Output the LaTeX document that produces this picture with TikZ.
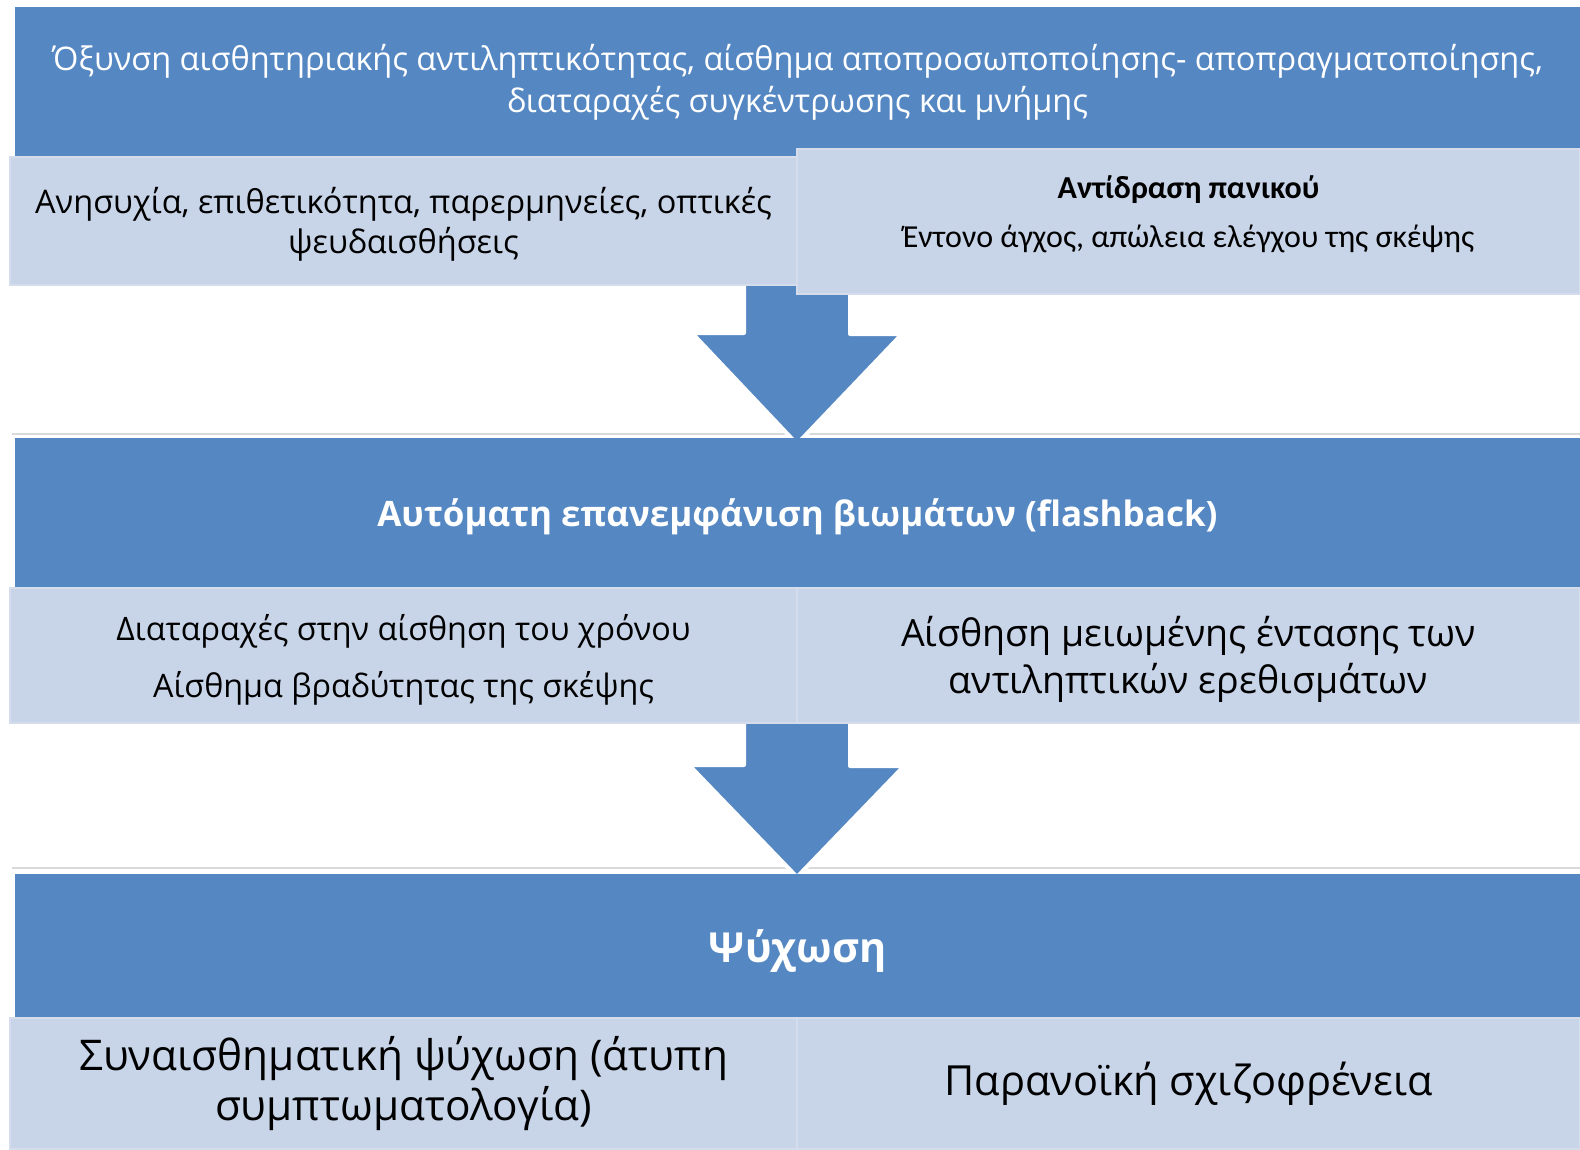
\documentclass[tikz,border=0pt]{standalone}
\usepackage{fontspec}
\setmainfont{Open Sans}
\newfontfamily\carlito{Carlito}
\usetikzlibrary{backgrounds}
\definecolor{bandblue}{HTML}{5588C3}
\definecolor{paleblue}{HTML}{C8D4E8}
\definecolor{paleedge}{HTML}{D5DDEC}

\begin{document}
\begin{tikzpicture}[x=1pt,y=-1pt,inner sep=0pt,outer sep=0pt,
band/.style={fill=bandblue,text=white,minimum width=1565pt,align=center},
cell/.style={fill=paleblue,draw=paleedge,line width=1.5pt,align=center},
bigarrow/.style={fill=bandblue,draw=white,line width=4pt,line join=round},
sepline/.style={draw=black!15,line width=1.5pt}]

\useasboundingbox (0,0) rectangle (1580,1149);

% first stage
\draw (797.5,82) node[band,minimum height=150pt,font=\fontsize{32.5}{42}\selectfont] (top) {Όξυνση αισθητηριακής αντιληπτικότητας, αίσθημα αποπροσωποποίησης- αποπραγματοποίησης,\\ διαταραχές συγκέντρωσης και μνήμης};
\draw (403.5,221) node[cell,minimum width=787pt,minimum height=128pt] (a1) {};
\draw ([yshift=-3pt]a1.center) node[align=center,font=\fontsize{32.5}{40}\selectfont] (a1t) {Ανησυχία, επιθετικότητα, παρερμηνείες, οπτικές\\ ψευδαισθήσεις};
\draw (1188.5,221.5) node[cell,minimum width=783pt,minimum height=145pt] (b1) {};
\draw ([yshift=7pt]b1.center) node[align=center,font=\carlito\fontsize{32}{49}\selectfont] (b1t) {\textbf{Αντίδραση πανικού}\\ Έντονο άγχος, απώλεια ελέγχου της σκέψης};

% second stage
\draw (797.5,513) node[band,minimum height=150pt,text depth=0pt,font=\bfseries\fontsize{35}{40}\selectfont] (mid) {Αυτόματη επανεμφάνιση βιωμάτων (flashback)};
\draw (403.5,655.5) node[cell,minimum width=787pt,minimum height=135pt] (a2) {};
\draw ([yshift=-4pt]a2.center) node[align=center,font=\fontsize{32.3}{57}\selectfont] (a2t) {Διαταραχές στην αίσθηση του χρόνου\\ Αίσθημα βραδύτητας της σκέψης};
\draw (1188.5,655.5) node[cell,minimum width=783pt,minimum height=135pt] (b2) {};
\draw ([yshift=-4pt]b2.center) node[align=center,font=\fontsize{37.5}{47}\selectfont] (b2t) {Αίσθηση μειωμένης έντασης των\\ αντιληπτικών ερεθισμάτων};

% third stage
\draw (797.5,946) node[band,minimum height=144pt,text depth=0pt,font=\bfseries\fontsize{41.4}{46}\selectfont] (low) {Ψύχωση};
\draw (403.5,1083.5) node[cell,minimum width=787pt,minimum height=131pt,font=\fontsize{42.3}{50}\selectfont] (a3) {Συναισθηματική ψύχωση (άτυπη\\ συμπτωματολογία)};
\draw (1188.5,1083.5) node[cell,minimum width=783pt,minimum height=131pt,font=\fontsize{41.5}{48}\selectfont] (b3) {Παρανοϊκή σχιζοφρένεια};

\begin{scope}[on background layer]
\draw[sepline] ([xshift=-3pt,yshift=4pt]mid.north west) -- ([yshift=4pt]mid.north east);
\draw[sepline] ([xshift=-3pt,yshift=6pt]low.north west) -- ([yshift=6pt]low.north east);
\draw[bigarrow] (a1.south east) ++(-53,-5) -- ++(0,53) -- ++(-52,0) -- ([yshift=-6pt]a1.east |- mid.north) -- ++(105,-110) -- ++(-52,0) -- ++(0,-53) -- cycle;
\draw[bigarrow] (a2.south east) ++(-53,-5) -- ++(0,47) -- ++(-55,0) -- ([yshift=-3pt]a2.east |- low.north) -- ++(107,-111) -- ++(-54,0) -- ++(0,-47) -- cycle;
\end{scope}
\end{tikzpicture}
\end{document}
